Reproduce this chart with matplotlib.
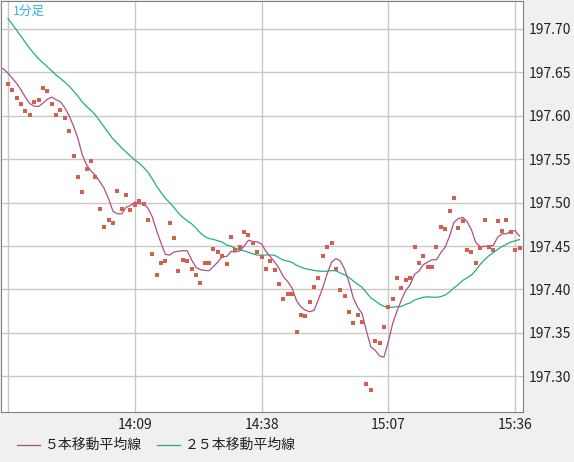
import matplotlib
matplotlib.use("Agg")
import matplotlib.pyplot as plt
import numpy as np
import pandas as pd
from matplotlib.lines import Line2D

plt.rcParams['font.family'] = ['Noto Sans CJK JP', 'DejaVu Sans']

# hidden earlier prices (only feed the moving averages)
prior_prices = [197.80,197.79,197.79,197.78,197.77,197.77,197.76,197.75,197.74,197.73,
                197.72,197.71,197.70,197.70,197.69,197.68,197.68,197.67,197.66,197.66,
                197.66,197.65,197.65,197.648]
# one price per minute starting 13:40
prices = [197.637,197.630,197.620,197.613,197.605,197.601,197.616,197.618,197.632,197.628,
          197.613,197.601,197.606,197.597,197.582,197.554,197.529,197.512,197.539,197.548,
          197.529,197.493,197.472,197.480,197.477,197.513,197.493,197.509,197.491,197.497,
          197.502,197.498,197.480,197.441,197.417,197.431,197.433,197.476,197.459,197.421,
          197.434,197.433,197.423,197.417,197.407,197.430,197.431,197.447,197.443,197.439,
          197.429,197.460,197.445,197.449,197.466,197.463,197.453,197.443,197.437,197.423,
          197.433,197.422,197.406,197.389,197.395,197.395,197.351,197.371,197.369,197.386,
          197.403,197.413,197.439,197.449,197.453,197.424,197.399,197.392,197.374,197.361,
          197.371,197.363,197.291,197.284,197.341,197.338,197.357,197.380,197.389,197.413,
          197.402,197.411,197.413,197.449,197.431,197.439,197.426,197.426,197.449,197.472,
          197.470,197.490,197.505,197.471,197.479,197.446,197.443,197.431,197.448,197.480,
          197.449,197.445,197.479,197.467,197.480,197.466,197.446,197.448]
xtick_minutes = [0, 29, 58, 87, 116]
xtick_labels = ["14:09", "14:38", "15:07", "15:36"]
ytick_values = [197.30, 197.35, 197.40, 197.45, 197.50, 197.55, 197.60, 197.65, 197.70]

allp = pd.Series(prior_prices + prices)
ma5 = allp.rolling(5).mean().values
ma25 = allp.rolling(25).mean().values
n0 = len(prior_prices)
xall = np.arange(len(allp)) - n0
x = np.arange(len(prices))

fig = plt.figure(figsize=(5.74, 4.62), dpi=100, facecolor='#f0f0f0')
ax = fig.add_axes([1/574, 50/462, 522/574, 411/462])
ax.set_facecolor('white')
ax.plot(xall, ma25, color='#20b080', lw=0.9)
ax.plot(xall, ma5, color='#b05080', lw=0.9)
ax.scatter(x, prices, marker='s', s=6, color='#d06050', linewidths=0, zorder=3)
ax.set_xlim(-1.6, 117.8)
ax.set_ylim(197.259, 197.732)
ax.set_xticks(xtick_minutes)
ax.set_xticklabels([""] + xtick_labels)
ax.set_yticks(ytick_values)
ax.set_yticklabels(["%.2f" % v for v in ytick_values])
ax.yaxis.tick_right()
ax.tick_params(length=0, labelsize=10, colors='#222222', pad=4)
ax.grid(True, color='#c8c8c8', lw=1)
ax.set_axisbelow(True)
for s in ax.spines.values():
    s.set_color('#808080')
ax.text(12/522, 1 - 10/411, "1分足", transform=ax.transAxes, color='#30b0e0',
        fontsize=9, va='center', ha='left')

fig.add_artist(Line2D([17/574, 40/574], [1-445/462]*2, color='#b05080', lw=0.9))
fig.text(45/574, 1-445/462, "５本移動平均線", fontsize=10, va='center', color='#222222')
fig.add_artist(Line2D([157/574, 180/574], [1-445/462]*2, color='#20b080', lw=0.9))
fig.text(185/574, 1-445/462, "２５本移動平均線", fontsize=10, va='center', color='#222222')

fig.savefig("out.png", dpi=100, facecolor=fig.get_facecolor())
